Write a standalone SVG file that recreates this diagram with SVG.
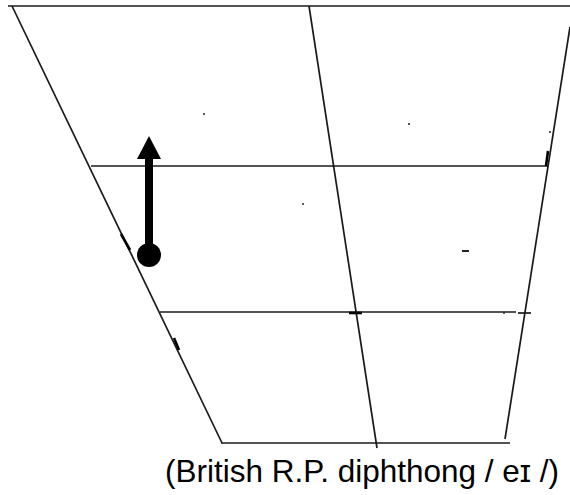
<svg xmlns="http://www.w3.org/2000/svg" width="570" height="495" viewBox="0 0 570 495">
  <style>
    .grid { stroke: #1a1a1a; stroke-width: 1.7; fill: none; stroke-linecap: butt; }
    .tick { stroke: #000; stroke-width: 2.6; fill: none; }
    .speck { fill: #222; }
    .caption { font-family: "Liberation Sans", Arial, sans-serif; font-size: 31.5px; fill: #000; }
  </style>
  <rect width="570" height="495" fill="#fff"/>

  <!-- vowel quadrilateral -->
  <g id="chart">
    <line class="grid" x1="8" y1="6" x2="570" y2="6"/>
    <line class="grid" x1="12" y1="6" x2="222" y2="443"/>
    <line class="grid" x1="309" y1="6" x2="377" y2="448"/>
    <line class="grid" x1="570" y1="27" x2="505" y2="439"/>
    <line class="grid" x1="91" y1="166" x2="549" y2="166"/>
    <line class="grid" x1="160" y1="312" x2="516" y2="312"/>
    <line class="grid" x1="221" y1="443" x2="510" y2="443"/>
    <!-- small marks along the grid -->
    <line class="tick" x1="121" y1="234" x2="130" y2="250"/>
    <line class="tick" x1="174" y1="338" x2="179" y2="350"/>
    <line class="tick" x1="548" y1="151" x2="546" y2="166"/>
    <line class="tick" x1="349" y1="313" x2="362" y2="313"/>
    <line class="grid" x1="518" y1="313" x2="531" y2="313"/>
    <circle class="speck" cx="204" cy="114" r="1"/>
    <circle class="speck" cx="409" cy="124" r="1.1"/>
    <circle class="speck" cx="550" cy="132" r="1"/>
    <circle class="speck" cx="303" cy="204" r="1"/>
    <rect class="speck" x="462" y="250" width="7" height="2"/>
    <circle class="speck" cx="504" cy="313" r="0.9"/>
  </g>

  <!-- glide from e towards ɪ -->
  <g id="glide">
    <circle cx="149" cy="255" r="12" fill="#000"/>
    <line x1="149" y1="255" x2="149" y2="156" stroke="#000" stroke-width="8"/>
    <polygon points="149,136 137,159 161,159" fill="#000"/>
  </g>

  <g id="label">
    <text class="caption" x="165" y="482">(British R.P. diphthong / eɪ /)</text>
  </g>
</svg>
